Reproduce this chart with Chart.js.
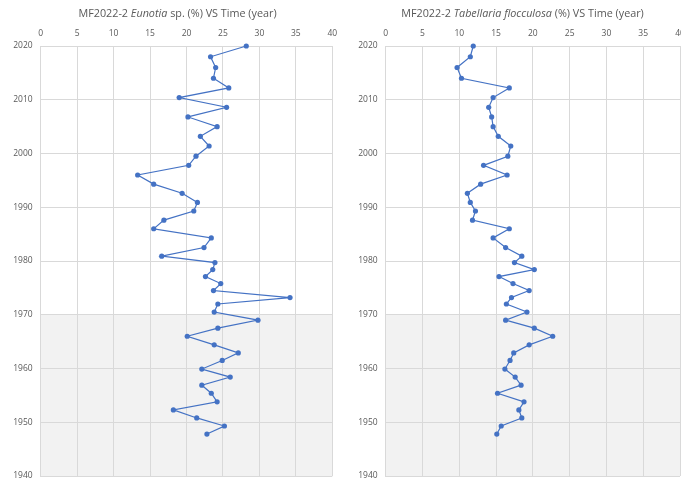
<!DOCTYPE html>
<html>
<head>
<meta charset="utf-8">
<script src="https://cdn.jsdelivr.net/npm/chart.js@4/dist/chart.umd.min.js"></script>
<style>
  html, body { margin: 0; padding: 0; background: #fff; overflow: hidden; }
  body { width: 681px; height: 481px; position: relative; }
  .panel { position: absolute; top: 0; width: 345px; height: 481px; }
  #left { left: 0; }
  #right { left: 345px; }
</style>
</head>
<body>
<div class="panel" id="left"><canvas id="cLeft" width="345" height="481"></canvas></div>
<div class="panel" id="right"><canvas id="cRight" width="345" height="481"></canvas></div>
<script>
// Sample ages (year) down the core MF2022-2
const years = [2020.0, 2018.0, 2016.0, 2014.0, 2012.2, 2010.4, 2008.6, 2006.8, 2005.0, 2003.2,
  2001.4, 1999.5, 1997.8, 1996.0, 1994.3, 1992.6, 1990.9, 1989.3, 1987.6, 1986.0,
  1984.3, 1982.5, 1980.9, 1979.7, 1978.4, 1977.1, 1975.8, 1974.5, 1973.2, 1972.0,
  1970.5, 1969.0, 1967.5, 1966.0, 1964.4, 1962.9, 1961.5, 1959.9, 1958.4, 1956.9,
  1955.4, 1953.8, 1952.3, 1950.8, 1949.3, 1947.8];

// Relative abundance (%) of Eunotia sp.
const eunotia = [28.2, 23.3, 24.0, 23.7, 25.8, 19.0, 25.5, 20.2, 24.2, 21.9,
  23.1, 21.3, 20.3, 13.3, 15.5, 19.4, 21.5, 21.0, 16.9, 15.5,
  23.4, 22.4, 16.6, 23.9, 23.6, 22.6, 24.7, 23.7, 34.2, 24.3,
  23.8, 29.8, 24.3, 20.1, 23.8, 27.1, 24.9, 22.1, 26.0, 22.1,
  23.4, 24.2, 18.2, 21.4, 25.2, 22.8];

// Relative abundance (%) of Tabellaria flocculosa
const tabellaria = [11.9, 11.5, 9.7, 10.3, 16.8, 14.6, 14.0, 14.4, 14.6, 15.3,
  17.0, 16.6, 13.3, 16.5, 12.9, 11.1, 11.5, 12.2, 11.8, 16.8,
  14.6, 16.3, 18.5, 17.5, 20.2, 15.4, 17.3, 19.5, 17.1, 16.4,
  19.2, 16.3, 20.2, 22.7, 19.5, 17.4, 16.9, 16.2, 17.6, 18.4,
  15.2, 18.8, 18.1, 18.5, 15.7, 15.1];

// Axis ranges and the shaded interval
const xRange = [0, 40];
const yRange = [1940, 2020];
const shadedYears = [1940, 1970];

const titles = {
  left: [['MF2022-2 ', false], ['Eunotia', true], [' sp. (%) VS Time (year)', false]],
  right: [['MF2022-2 ', false], ['Tabellaria flocculosa', true], [' (%) VS Time (year)', false]]
};

const FONT = '"Open Sans", "DejaVu Sans", sans-serif';
const TEXT_COLOR = '#595959';
const GRID_COLOR = '#d9d9d9';
const LINE_COLOR = '#4472c4';

// Grey band behind the older part of the record
const shadePlugin = {
  id: 'shade',
  beforeDraw(chart) {
    const { ctx, scales: { x, y } } = chart;
    const top = y.getPixelForValue(shadedYears[1]);
    const bottom = y.getPixelForValue(shadedYears[0]);
    const left = x.getPixelForValue(xRange[0]);
    const right = x.getPixelForValue(xRange[1]);
    ctx.save();
    ctx.fillStyle = '#f2f2f2';
    ctx.fillRect(left, top, right - left, bottom - top);
    ctx.restore();
  }
};

// Title with an italic taxon name
const richTitlePlugin = {
  id: 'richTitle',
  afterDraw(chart, args, opts) {
    const { ctx } = chart;
    const parts = opts.parts || [];
    const size = opts.size || 12;
    ctx.save();
    ctx.fillStyle = TEXT_COLOR;
    ctx.textBaseline = 'middle';
    ctx.textAlign = 'left';
    let total = 0;
    const widths = parts.map(([t, it]) => {
      ctx.font = (it ? 'italic ' : '') + size + 'px ' + FONT;
      const w = ctx.measureText(t).width;
      total += w;
      return w;
    });
    let xPos = opts.centerX - total / 2;
    parts.forEach(([t, it], i) => {
      ctx.font = (it ? 'italic ' : '') + size + 'px ' + FONT;
      ctx.fillText(t, xPos, opts.y);
      xPos += widths[i];
    });
    ctx.restore();
  }
};

function makeChart(canvasId, values, titleParts, padRight) {
  const points = values.map((v, i) => ({ x: v, y: years[i] }));
  return new Chart(document.getElementById(canvasId), {
    type: 'scatter',
    data: {
      datasets: [{
        data: points,
        showLine: true,
        clip: false,
        borderColor: LINE_COLOR,
        backgroundColor: LINE_COLOR,
        borderWidth: 1.2,
        pointRadius: 2.6,
        pointHoverRadius: 2.6,
        pointBorderWidth: 0,
        tension: 0
      }]
    },
    options: {
      responsive: false,
      animation: false,
      events: [],
      layout: { padding: { left: 0, right: padRight, top: 0, bottom: 5 } },
      plugins: {
        legend: { display: false },
        tooltip: { enabled: false },
        title: { display: false },
        richTitle: { parts: titleParts, centerX: 177.5, y: 14, size: 10.8 }
      },
      scales: {
        x: {
          type: 'linear',
          position: 'top',
          min: xRange[0],
          max: xRange[1],
          ticks: {
            stepSize: 5,
            color: TEXT_COLOR,
            padding: 7,
            font: { family: FONT, size: 8.5 }
          },
          grid: { color: GRID_COLOR, lineWidth: 1, drawTicks: false },
          border: { display: true, color: GRID_COLOR },
          afterFit(scale) {
            scale.height = 46;
            scale.paddingLeft = 0;
            scale.paddingRight = 0;
          }
        },
        y: {
          type: 'linear',
          position: 'left',
          min: yRange[0],
          max: yRange[1],
          ticks: {
            stepSize: 10,
            color: TEXT_COLOR,
            padding: 8,
            font: { family: FONT, size: 8.5 },
            callback: (v) => String(v)
          },
          grid: { color: GRID_COLOR, lineWidth: 1, drawTicks: false },
          border: { display: true, color: GRID_COLOR },
          afterFit(scale) {
            scale.width = 40.7;
            scale.paddingTop = 0;
            scale.paddingBottom = 0;
          }
        }
      }
    },
    plugins: [shadePlugin, richTitlePlugin]
  });
}

makeChart('cLeft', eunotia, titles.left, 12.7);
makeChart('cRight', tabellaria, titles.right, 10);
</script>
</body>
</html>
